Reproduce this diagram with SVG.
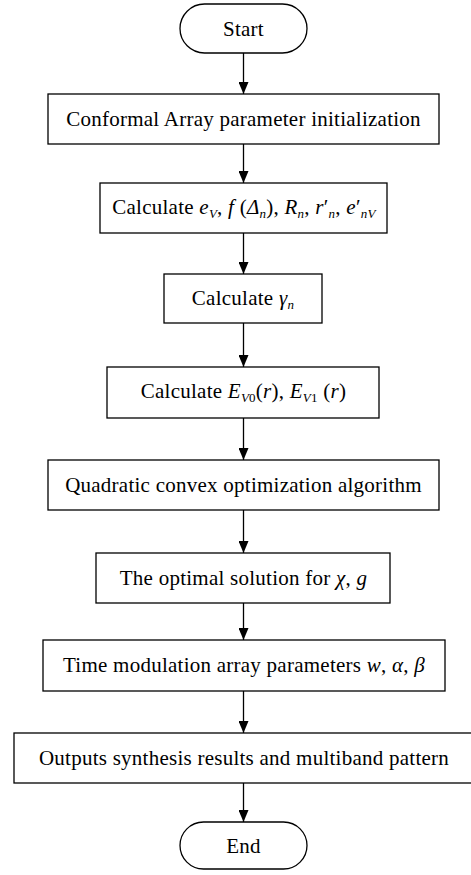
<svg xmlns="http://www.w3.org/2000/svg" width="471" height="875" viewBox="0 0 471 875">
<defs>
<style>
.b{fill:#fff;stroke:#000;stroke-width:1.3}
.t{font-family:"Liberation Serif","Times New Roman",serif;font-size:21px;letter-spacing:0.25px;fill:#000;text-anchor:middle}
.i{font-style:italic}
.s{font-size:13px;font-style:italic}
.c{stroke:#000;stroke-width:1.3;fill:none}
</style>
<marker id="ah" markerWidth="12" markerHeight="10" refX="12" refY="5" orient="auto" markerUnits="userSpaceOnUse" viewBox="0 0 12 10">
<path d="M0,0 L12,5 L0,10 Z" fill="#000"/>
</marker>
</defs>
<rect width="471" height="875" fill="#fff"/>
<g id="connectors">
<line class="c" x1="243.5" y1="53" x2="243.5" y2="94" marker-end="url(#ah)"/>
<line class="c" x1="243.5" y1="144" x2="243.5" y2="183" marker-end="url(#ah)"/>
<line class="c" x1="243.5" y1="233" x2="243.5" y2="274" marker-end="url(#ah)"/>
<line class="c" x1="243.5" y1="323" x2="243.5" y2="367" marker-end="url(#ah)"/>
<line class="c" x1="243.5" y1="418" x2="243.5" y2="460" marker-end="url(#ah)"/>
<line class="c" x1="243.5" y1="510" x2="243.5" y2="553" marker-end="url(#ah)"/>
<line class="c" x1="243.5" y1="603" x2="243.5" y2="640" marker-end="url(#ah)"/>
<line class="c" x1="243.5" y1="691" x2="243.5" y2="733" marker-end="url(#ah)"/>
<line class="c" x1="243.5" y1="783" x2="243.5" y2="822" marker-end="url(#ah)"/>
</g>
<g id="start">
<rect class="b" x="180" y="4" width="127" height="49" rx="24.5"/>
<text class="t" x="243.5" y="36">Start</text>
</g>
<g id="init">
<rect class="b" x="48" y="94" width="391" height="50"/>
<text class="t" x="243.5" y="126">Conformal Array parameter initialization</text>
</g>
<g id="calc1">
<rect class="b" x="100" y="183" width="287" height="50"/>
<text class="t" x="244" y="214">Calculate <tspan class="i">e</tspan><tspan class="s" dy="4">V</tspan><tspan dy="-4">, </tspan><tspan class="i">f</tspan> (<tspan class="i">Δ</tspan><tspan class="s" dy="4">n</tspan><tspan dy="-4">), </tspan><tspan class="i">R</tspan><tspan class="s" dy="4">n</tspan><tspan dy="-4">, </tspan><tspan class="i">r</tspan>′<tspan class="s" dy="4">n</tspan><tspan dy="-4">, </tspan><tspan class="i">e</tspan>′<tspan class="s" dy="4">nV</tspan></text>
</g>
<g id="calc2">
<rect class="b" x="164" y="274" width="158" height="49"/>
<text class="t" x="243" y="305">Calculate <tspan class="i">γ</tspan><tspan class="s" dy="4">n</tspan></text>
</g>
<g id="calc3">
<rect class="b" x="107" y="367" width="272" height="51"/>
<text class="t" x="243.5" y="398">Calculate <tspan class="i">E</tspan><tspan class="s" dy="4">V</tspan><tspan font-size="13">0</tspan><tspan dy="-4">(</tspan><tspan class="i">r</tspan>), <tspan class="i">E</tspan><tspan class="s" dy="4">V</tspan><tspan font-size="13">1</tspan><tspan dy="-4"> (</tspan><tspan class="i">r</tspan>)</text>
</g>
<g id="qcoa">
<rect class="b" x="48" y="460" width="391" height="50"/>
<text class="t" x="243.5" y="492">Quadratic convex optimization algorithm</text>
</g>
<g id="optimal">
<rect class="b" x="96" y="553" width="294" height="50"/>
<text class="t" x="243.5" y="585">The optimal solution for <tspan class="i">χ</tspan>, <tspan class="i">g</tspan></text>
</g>
<g id="tma">
<rect class="b" x="43" y="640" width="402" height="51"/>
<text class="t" x="244" y="672">Time modulation array parameters <tspan class="i">w</tspan>, <tspan class="i">α</tspan>, <tspan class="i">β</tspan></text>
</g>
<g id="outputs">
<rect class="b" x="14" y="733" width="459" height="50"/>
<text class="t" x="244" y="765">Outputs synthesis results and multiband pattern</text>
</g>
<g id="end">
<rect class="b" x="180" y="822" width="127" height="47" rx="23.5"/>
<text class="t" x="243.5" y="853">End</text>
</g>
</svg>
